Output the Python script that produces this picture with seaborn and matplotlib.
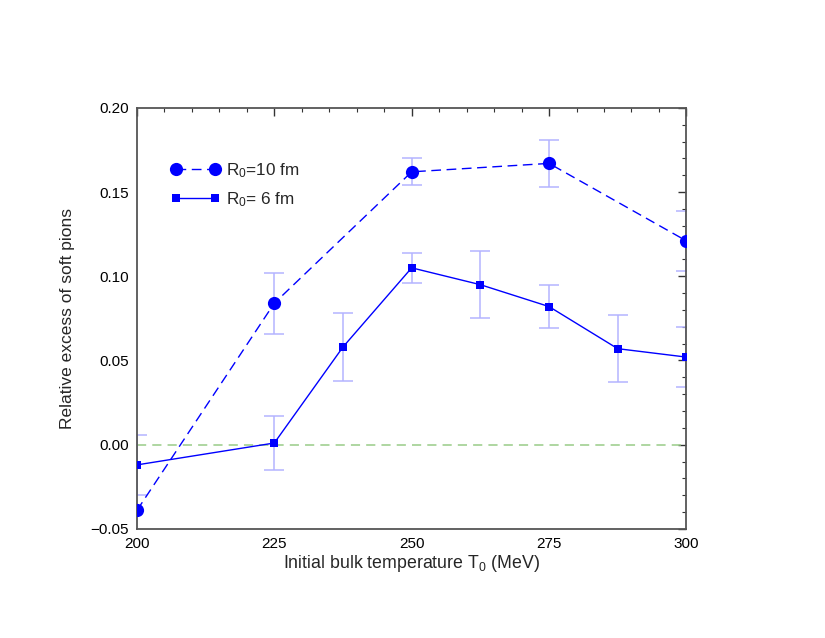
import matplotlib
matplotlib.use('Agg')
import matplotlib.pyplot as plt
import seaborn as sns
import pandas as pd
from matplotlib.ticker import MultipleLocator

# ── Data ────────────────────────────────────────────────────
t_r10 = [200, 225, 250, 275, 300]
y_r10 = [-0.039, 0.084, 0.162, 0.167, 0.121]
err_r10 = [0.0, 0.018, 0.008, 0.014, 0.018]

t_r6 = [200, 225, 237.5, 250, 262.5, 275, 287.5, 300]
y_r6 = [-0.012, 0.001, 0.058, 0.105, 0.095, 0.082, 0.057, 0.052]
err_r6 = [0.018, 0.016, 0.020, 0.009, 0.020, 0.013, 0.020, 0.018]

x_ticks = [200, 225, 250, 275, 300]
y_ticks = [-0.05, 0.00, 0.05, 0.10, 0.15, 0.20]

df10 = pd.DataFrame({'T0': t_r10, 'excess': y_r10})
df6 = pd.DataFrame({'T0': t_r6, 'excess': y_r6})

sns.set_style('white')
plt.rcParams['font.family'] = ['Liberation Sans', 'DejaVu Sans']
plt.rcParams['mathtext.fontset'] = 'custom'
plt.rcParams['mathtext.rm'] = 'Liberation Sans'
plt.rcParams['mathtext.it'] = 'Liberation Sans:italic'

fig = plt.figure(figsize=(8.25, 6.38), dpi=100)
ax = fig.add_axes([0.166, 0.171, 0.666, 0.660])

# zero reference line
ax.axhline(0, color='#99cc88', lw=1.1, ls=(0, (6, 4)), zorder=1)

# error bars (pale blue)
eb_kw = dict(fmt='none', ecolor='#b4b4ff', elinewidth=1.1, capsize=7, capthick=1.1, zorder=2)
ax.errorbar(t_r10[1:], y_r10[1:], yerr=err_r10[1:], **eb_kw)
ax.errorbar(t_r6, y_r6, yerr=err_r6, **eb_kw)

sns.lineplot(data=df10, x='T0', y='excess', ax=ax, color='#0000ff', lw=1.0,
             marker='o', markersize=9.5, markeredgewidth=0,
             label=r'R$_\mathrm{0}$=10 fm', zorder=3)
ax.lines[-1].set_linestyle((0, (7, 4)))
sns.lineplot(data=df6, x='T0', y='excess', ax=ax, color='#0000ff', lw=1.0,
             marker='s', markersize=6, markeredgewidth=0,
             label=r'R$_\mathrm{0}$= 6 fm', zorder=3)

ax.set_xlim(200, 300)
ax.set_ylim(-0.05, 0.20)
ax.set_xticks(x_ticks)
ax.set_yticks(y_ticks)
ax.set_yticklabels(['\u22120.05', '0.00', '0.05', '0.10', '0.15', '0.20'])
ax.xaxis.set_minor_locator(MultipleLocator(5))
ax.yaxis.set_minor_locator(MultipleLocator(0.01))
ax.tick_params(which='both', direction='in', top=True, right=True,
               colors='#333333', labelcolor='black', labelsize=11)
ax.tick_params(which='major', length=6, width=1)
ax.tick_params(axis='y', which='major', pad=6)
ax.tick_params(axis='x', which='major', pad=5.5)
ax.tick_params(which='minor', length=3, width=0.8)
for s in ax.spines.values():
    s.set_color('#555555')
    s.set_linewidth(1.3)

ax.set_xlabel(r'Initial bulk temperature T$_\mathrm{0}$ (MeV)', fontsize=12.8, labelpad=2)
ax.set_ylabel('Relative excess of soft pions', fontsize=12.5, labelpad=11)

leg = ax.legend(loc='upper left', bbox_to_anchor=(0.062, 0.873), frameon=False,
                fontsize=12.3, handlelength=2.85, handletextpad=0.35, numpoints=2,
                labelspacing=0.6, borderaxespad=0, borderpad=0)

fig.savefig('out.png', dpi=100)
